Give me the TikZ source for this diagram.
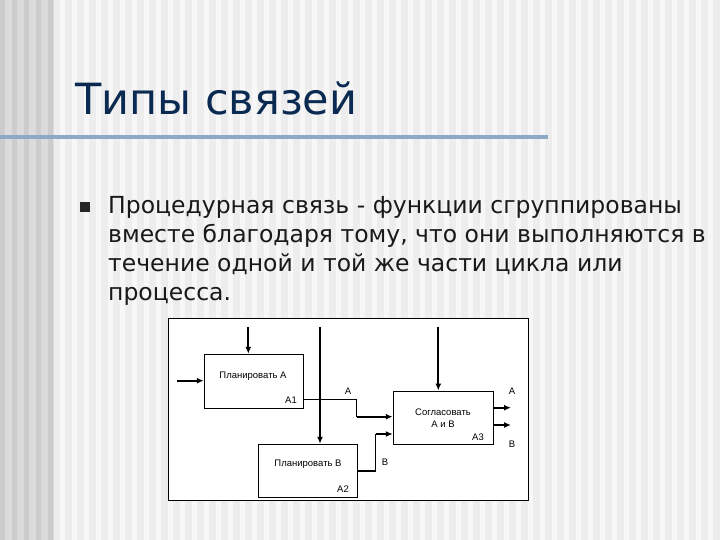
\documentclass[tikz,border=0pt]{standalone}
\usepackage{fontspec}
\setmainfont{DejaVu Sans}
\newfontfamily\diag{Liberation Sans}
\usetikzlibrary{arrows.meta}
\definecolor{titlec}{HTML}{0B2A52}
\definecolor{rulec}{HTML}{8FA8C4}
\begin{document}
\begin{tikzpicture}[x=1pt,y=-1pt,
  fbox/.style={draw,line width=1.1pt,fill=white,inner sep=0},
  arr/.style={line width=2pt,-{Latex[length=7pt,width=6pt]}},
  ln/.style={line width=1.1pt},
  lbl/.style={font=\diag\fontsize{9.5}{11}\selectfont,inner sep=0}]
\useasboundingbox (0,0) rectangle (720,540);
\fill[white!93!black] (0,0) rectangle (720,540);
\fill[white!86!black] (0,0) rectangle (54,540);
\foreach \i in {0,12,...,48} \fill[white!80!black] (\i,0) rectangle (\i+5,540);
\foreach \i in {60,72,...,716} \fill[white!97!black] (\i,0) rectangle (\i+5,540);
\node[anchor=base west,inner sep=0,text=titlec,font=\fontsize{43}{50}\selectfont] (title) at (75,115) {Типы связей};
\fill[rulec] (0,135) rectangle (548,139);
\fill[black!85] (80,202) rectangle (90,212);
\node[anchor=north west,inner sep=0,align=left,text=black!90,font=\fontsize{23.5}{29}\selectfont] (txt) at (108,196.6)
 {Процедурная связь - функции сгруппированы\\вместе благодаря тому, что они выполняются в\\течение одной и той же части цикла или\\процесса.};
\draw[fill=white,line width=0.8pt] (168,318) rectangle (528,500);
\node[fbox,minimum width=99,minimum height=54] (a1) at (253.8,381.3) {};
\node[fbox,minimum width=99,minimum height=53.4] (a2) at (307.8,471) {};
\node[fbox,minimum width=100,minimum height=53.3] (a3) at (443.3,417.7) {};
\node[lbl] at (253,376) {Планировать А};
\node[lbl] at (291,400) {А1};
\node[lbl] at (308,464) {Планировать В};
\node[lbl] at (343,489) {А2};
\node[lbl] at (443,412) {Согласовать};
\node[lbl] at (443,424) {А и В};
\node[lbl] at (478,437) {А3};
\node[lbl] at (348,391) {А};
\node[lbl] at (385,462) {В};
\node[lbl] at (512,391) {А};
\node[lbl] at (512,444) {В};
\coordinate (c1) at (248.3,327);
\coordinate (i1) at (177,380.7);
\coordinate (c2) at (320,327);
\coordinate (c3) at (438.3,327);
\coordinate (o1) at (511,407.7);
\coordinate (o2) at (511,425);
\draw[arr] (c1) -- (c1|-a1.north);
\draw[arr] (i1) -- (i1-|a1.west);
\draw[arr] (c2) -- (c2|-a2.north);
\draw[arr] (c3) -- (c3|-a3.north);
\draw[ln] (a1.east|-0,399.3) -- (356.7,399.3) -- (356.7,416.7);
\draw[arr] (356.7,416.7) -- (a3.west|-0,416.7);
\draw[ln] (a2.east|-0,471) -- (375.7,471) -- (375.7,434);
\draw[arr] (375.7,434) -- (a3.west|-0,434);
\draw[arr] (a3.east|-o1) -- (o1);
\draw[arr] (a3.east|-o2) -- (o2);
\end{tikzpicture}
\end{document}
